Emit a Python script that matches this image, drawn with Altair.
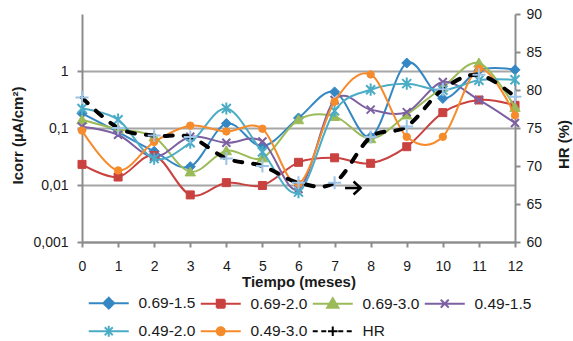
import altair as alt
import pandas as pd

# ---------------- data ----------------
months = list(range(13))
series_names = ["0.69-1.5", "0.69-2.0", "0.69-3.0", "0.49-1.5", "0.49-2.0", "0.49-3.0"]
icorr_069_15 = [0.18, 0.085, 0.039, 0.021, 0.12, 0.048, 0.15, 0.43, 0.07, 1.38, 0.33, 1.03, 1.05]
icorr_069_20 = [0.023, 0.0138, 0.033, 0.0067, 0.011, 0.0098, 0.025, 0.030, 0.024, 0.047, 0.186, 0.31, 0.25]
icorr_069_30 = [0.14, 0.095, 0.07, 0.017, 0.04, 0.030, 0.14, 0.16, 0.065, 0.17, 0.52, 1.38, 0.23]
icorr_049_15 = [0.105, 0.076, 0.031, 0.07, 0.055, 0.058, 0.0085, 0.31, 0.21, 0.19, 0.64, 0.31, 0.122]
icorr_049_20 = [0.22, 0.14, 0.029, 0.055, 0.22, 0.038, 0.0075, 0.2, 0.47, 0.6, 0.46, 0.69, 0.7]
icorr_049_30 = [0.09, 0.018, 0.057, 0.11, 0.087, 0.097, 0.0105, 0.29, 0.87, 0.07, 0.07, 1.1, 0.167]
hr_name = "HR"
hr_values = [79.0, 75.0, 74.0, 73.8, 71.0, 70.0, 67.8, 67.8, 73.8, 75.2, 80.1, 82.0, 79.1]
arrow_x = [7.29, 7.72]
arrow_hr = [67.1, 67.1]

series_values = [icorr_069_15, icorr_069_20, icorr_069_30, icorr_049_15, icorr_049_20, icorr_049_30]
series_colors = ["#3587C4", "#C9423F", "#9BBB59", "#7D60A2", "#4BACC6", "#F68B2C"]
hr_line_color = "#000000"
hr_marker_color = "#9DC3E6"

# plot markers (custom unit paths) and sizes
plot_shapes = [
    "M0,-1L1,0L0,1L-1,0Z",
    "M-1,-1H1V1H-1Z",
    "M0,-1.1L1.15,0.9H-1.15Z",
    "M-1,-1L1,1M-1,1L1,-1",
    "M-1,-1L1,1M-1,1L1,-1M0,-1.35V1.35",
    "circle",
]
plot_filled = [True, True, True, False, False, True]
plot_sizes = [100, 64, 81, 64, 81, 55]
plot_marker_strokes = [1, 1, 1, 2, 2, 1]
hr_shape = "M-1,0H1M0,-1V1"

# legend symbols: line + marker
line_part = "M-5,0H5"
legend_paths = [
    line_part + "M0,-1.35L1.35,0L0,1.35L-1.35,0Z",
    line_part + "M-1,-1H1V1H-1Z",
    line_part + "M0,-1.35L1.4,1H-1.4Z",
    line_part + "M-1,-1L1,1M-1,1L1,-1",
    line_part + "M-1,-1L1,1M-1,1L1,-1M0,-1.35V1.35",
    line_part + "M-1,0A1,1,0,1,0,1,0A1,1,0,1,0,-1,0Z",
    line_part + "M0,0H1.2M0,0H-1.2M0,0V1.2M0,0V-1.2",
]
all_names = series_names + [hr_name]
legend_stroke = series_colors + [hr_line_color]
legend_fill = series_colors + [hr_marker_color]
legend_dashes = [[1, 0]] * 6 + [[5, 3.5]]

FONT = "Liberation Sans, Arial, sans-serif"
TEXT = "#1a1a1a"
AXIS_GRAY = "#8C8C8C"
GRID_GRAY = "#A6A6A6"

# ---------------- scales & axes ----------------
x_scale = alt.Scale(domain=[0, 12], nice=False, zero=False)
y_scale = alt.Scale(type="log", domain=[0.001, 10], nice=False)
hr_scale = alt.Scale(domain=[60, 90], nice=False, zero=False)

x_axis = alt.Axis(
    values=months, format="d", title="Tiempo (meses)", grid=False,
    domainColor=AXIS_GRAY, domainWidth=2, tickColor=AXIS_GRAY, tickWidth=2, tickSize=5,
    labelFont=FONT, labelFontSize=14, labelColor=TEXT, labelPadding=12, labelFlush=False,
    titleFont=FONT, titleFontSize=15, titleFontWeight="bold", titleColor=TEXT,
    titleBaseline="alphabetic", titleY=44,
)
y_axis = alt.Axis(
    values=[0.001, 0.01, 0.1, 1],
    labelExpr="datum.value >= 1 ? '1' : replace(format(datum.value, '.3~f'), '.', ',')",
    grid=True, gridColor=GRID_GRAY, gridWidth=2,
    domainColor=AXIS_GRAY, domainWidth=2, tickColor=AXIS_GRAY, tickWidth=2, tickSize=5,
    labelFont=FONT, labelFontSize=14, labelColor=TEXT, labelPadding=9,
    title="Icorr (µA/cm²)", titleFont=FONT, titleFontSize=15, titleFontWeight="bold",
    titleColor=TEXT, titleAngle=270, titleBaseline="middle", titleX=-65, titleY=121,
)
hr_axis = alt.Axis(
    orient="right", values=[60, 65, 70, 75, 80, 85, 90], grid=False,
    domainColor=AXIS_GRAY, domainWidth=2, tickColor=AXIS_GRAY, tickWidth=2, tickSize=5,
    labelFont=FONT, labelFontSize=14, labelColor=TEXT, labelPadding=6,
    title="HR (%)", titleFont=FONT, titleFontSize=15, titleFontWeight="bold",
    titleColor=TEXT, titleAngle=270, titleBaseline="middle", titleX=48, titleY=130,
)

X = lambda f: alt.X(f, scale=x_scale, axis=x_axis)
Y = lambda f: alt.Y(f, scale=y_scale, axis=y_axis)
YH = lambda f: alt.Y(f, scale=hr_scale, axis=hr_axis)

# ---------------- Icorr layers ----------------
icorr_layers = []
for i, (name, vals) in enumerate(zip(series_names, series_values)):
    df = pd.DataFrame({"month": months, "icorr": vals, "series": name})
    base = alt.Chart(df)
    line = base.mark_line(interpolate="cardinal", color=series_colors[i], strokeWidth=2).encode(
        x=X("month:Q"), y=Y("icorr:Q"),
    )
    filled = plot_filled[i]
    pts = base.mark_point(
        shape=plot_shapes[i], size=plot_sizes[i], filled=filled,
        fill=series_colors[i] if filled else "transparent",
        stroke=series_colors[i], strokeWidth=plot_marker_strokes[i], opacity=1,
    ).encode(x=X("month:Q"), y=Y("icorr:Q"))
    icorr_layers += [line, pts]

leg = alt.Legend(
    title=None, orient="none", legendX=2, legendY=281, direction="horizontal", columns=4,
    symbolSize=64, symbolStrokeWidth=2, symbolOffset=17, labelOffset=22, symbolOpacity=1,
    labelFont=FONT, labelFontSize=15.5, labelColor=TEXT, labelLimit=300,
    columnPadding=0, rowPadding=8.5, padding=0,
)
legend_df = pd.DataFrame({"series": all_names})
legend_layer = alt.Chart(legend_df).transform_filter("false").mark_point(filled=True, opacity=1).encode(
    fill=alt.Fill("series:N", scale=alt.Scale(domain=all_names, range=legend_fill), legend=leg),
    stroke=alt.Stroke("series:N", scale=alt.Scale(domain=all_names, range=legend_stroke), legend=leg),
    shape=alt.Shape("series:N", scale=alt.Scale(domain=all_names, range=legend_paths), legend=leg),
    strokeDash=alt.StrokeDash("series:N", scale=alt.Scale(domain=all_names, range=legend_dashes), legend=leg),
)
icorr_layer = alt.layer(*icorr_layers, legend_layer)

# ---------------- HR layers ----------------
hr_df = pd.DataFrame({"month": months, "hr": hr_values})
hr_line = alt.Chart(hr_df).mark_line(
    interpolate="cardinal", color=hr_line_color, strokeWidth=4, strokeDash=[8, 11], strokeCap="round"
).encode(x=X("month:Q"), y=YH("hr:Q"))
hr_pts = alt.Chart(hr_df).mark_point(
    shape=hr_shape, size=169, filled=False, stroke=hr_marker_color, strokeWidth=2, opacity=1
).encode(x=X("month:Q"), y=YH("hr:Q"))
arrow_df = pd.DataFrame({"x1": [arrow_x[0]], "x2": [arrow_x[1]], "hr": [arrow_hr[0]]})
arrow_line = alt.Chart(arrow_df).mark_rule(color="#000000", strokeWidth=2.5).encode(
    x=X("x1:Q"), x2="x2:Q", y=YH("hr:Q"),
)
arrow_head = alt.Chart(arrow_df).mark_point(
    shape="M-1.4,-1.3L0,0L-1.4,1.3", size=100, filled=False, stroke="#000000", strokeWidth=2.5, opacity=1
).encode(x=X("x2:Q"), y=YH("hr:Q"))
hr_layer = alt.layer(hr_line, hr_pts, arrow_line, arrow_head)

chart = alt.layer(icorr_layer, hr_layer).resolve_scale(y="independent").properties(
    width=433, height=228,
    autosize=alt.AutoSizeParams(type="none"),
    padding={"left": 82, "top": 14, "right": 58, "bottom": 99},
).configure(background="white").configure_view(stroke="transparent", strokeWidth=0)

chart.save("out.html", embed_options={"renderer": "svg", "actions": False})
